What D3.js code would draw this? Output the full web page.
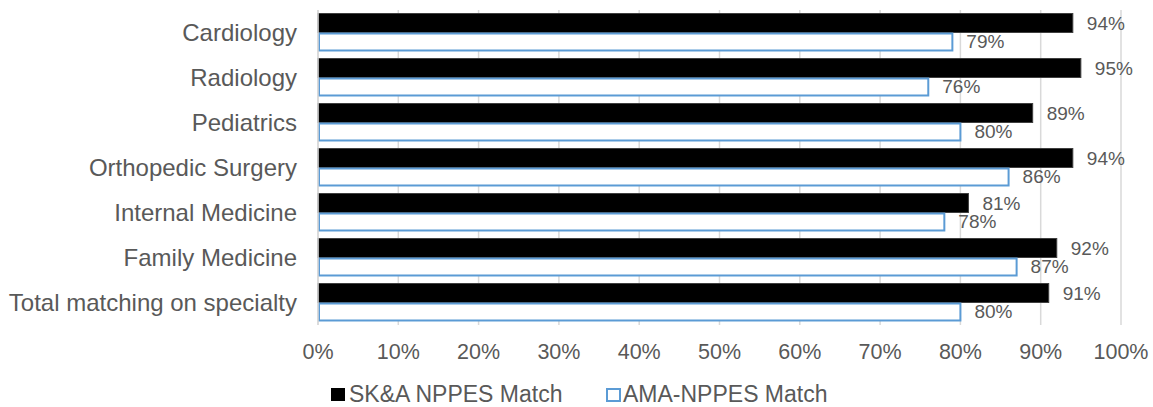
<!DOCTYPE html>
<meta charset="utf-8">
<script src="https://d3js.org/d3.v7.min.js"></script>
<style>
  body { margin: 0; background: #fff; }
  text { font-family: "Liberation Sans", Arial, sans-serif; fill: #595959; }
</style>
<div id="chart"></div>
<script>
  // data
  var categories = ["Cardiology", "Radiology", "Pediatrics", "Orthopedic Surgery",
                    "Internal Medicine", "Family Medicine", "Total matching on specialty"];
  var seriesNames = ["SK&A NPPES Match", "AMA-NPPES Match"];
  var skaValues = [94, 95, 89, 94, 81, 92, 91];
  var amaValues = [79, 76, 80, 86, 78, 87, 80];
  var ticks = [0, 10, 20, 30, 40, 50, 60, 70, 80, 90, 100];

  var W = 1153, H = 407;
  var plotLeft = 318, plotRight = 1121, plotTop = 10, plotBottom = 325;

  var svg = d3.select("#chart").append("svg")
    .attr("width", W).attr("height", H);

  var x = d3.scaleLinear().domain([0, 100]).range([plotLeft, plotRight]);
  var y = d3.scaleBand().domain(categories).range([plotTop, plotBottom])
    .paddingInner(0.156).paddingOuter(0.078);
  var sub = d3.scaleBand().domain(seriesNames).range([0, y.bandwidth()]);

  // gridlines
  svg.append("g").selectAll("line").data(ticks).enter().append("line")
    .attr("x1", function(d) { return x(d); }).attr("x2", function(d) { return x(d); })
    .attr("y1", plotTop).attr("y2", plotBottom)
    .attr("stroke", "#d9d9d9").attr("stroke-width", 1.5);

  // tick labels
  svg.append("g").selectAll("text").data(ticks).enter().append("text")
    .attr("x", function(d) { return x(d); }).attr("y", 359)
    .attr("text-anchor", "middle").style("font-size", "21.5px")
    .text(function(d) { return d + "%"; });

  // category labels
  svg.append("g").selectAll("text").data(categories).enter().append("text")
    .attr("x", 297).attr("y", function(d) { return y(d) + y.bandwidth() / 2 + 8; })
    .attr("text-anchor", "end").style("font-size", "24px")
    .text(function(d) { return d; });

  var rows = categories.map(function(c, i) {
    return {cat: c, ska: skaValues[i], ama: amaValues[i]};
  });

  // SK&A bars
  svg.append("g").selectAll("rect").data(rows).enter().append("rect")
    .attr("x", x(0))
    .attr("y", function(d) { return y(d.cat) + sub(seriesNames[0]); })
    .attr("width", function(d) { return x(d.ska) - x(0); })
    .attr("height", sub.bandwidth())
    .attr("fill", "#000").attr("stroke", "#3f3f3f").attr("stroke-width", 1);

  // AMA bars
  svg.append("g").selectAll("rect").data(rows).enter().append("rect")
    .attr("x", x(0) + 1)
    .attr("y", function(d) { return y(d.cat) + sub(seriesNames[1]) + 1; })
    .attr("width", function(d) { return x(d.ama) - x(0) - 1; })
    .attr("height", sub.bandwidth() - 2)
    .attr("fill", "#fff").attr("stroke", "#5b9bd5").attr("stroke-width", 2);

  // value labels
  svg.append("g").selectAll("text").data(rows).enter().append("text")
    .attr("x", function(d) { return x(d.ska) + 14; })
    .attr("y", function(d) { return y(d.cat) + sub(seriesNames[0]) + sub.bandwidth() / 2 + 6.5; })
    .style("font-size", "19px")
    .text(function(d) { return d.ska + "%"; });
  svg.append("g").selectAll("text").data(rows).enter().append("text")
    .attr("x", function(d) { return x(d.ama) + 14; })
    .attr("y", function(d) { return y(d.cat) + sub(seriesNames[1]) + sub.bandwidth() / 2 + 6.5; })
    .style("font-size", "19px")
    .text(function(d) { return d.ama + "%"; });

  // axis line
  svg.append("line").attr("x1", x(0)).attr("x2", x(0))
    .attr("y1", plotTop).attr("y2", plotBottom)
    .attr("stroke", "#d9d9d9").attr("stroke-width", 1.5);

  // legend
  var legend = svg.append("g");
  legend.append("rect").attr("x", 331).attr("y", 388).attr("width", 14).attr("height", 13)
    .attr("fill", "#000");
  legend.append("text").attr("x", 349).attr("y", 402).style("font-size", "23px")
    .text(seriesNames[0]);
  legend.append("rect").attr("x", 607).attr("y", 389).attr("width", 13).attr("height", 12)
    .attr("fill", "#fff").attr("stroke", "#5b9bd5").attr("stroke-width", 2);
  legend.append("text").attr("x", 623).attr("y", 402).style("font-size", "23px")
    .text(seriesNames[1]);
</script>
